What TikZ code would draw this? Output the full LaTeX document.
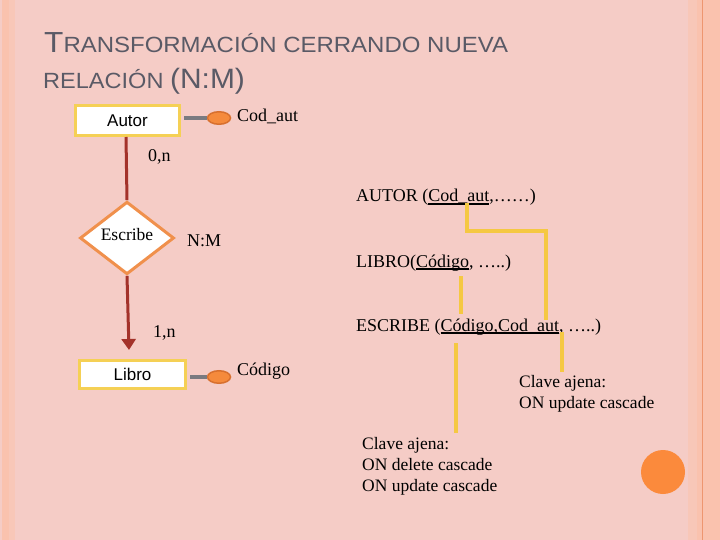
\documentclass[tikz,border=0pt]{standalone}
\usepackage{fontspec}
\usepackage{graphicx}
\setmainfont{Liberation Serif}
\newfontfamily\arialf{Liberation Sans}
\usetikzlibrary{shapes.geometric,arrows.meta}
\definecolor{bgpink}{HTML}{F5CCC6}
\definecolor{stripA}{HTML}{FAC2AE}
\definecolor{stripB}{HTML}{F8C7B8}
\definecolor{stripLine}{HTML}{EE9670}
\definecolor{titlegray}{HTML}{5A5A66}
\definecolor{boxyellow}{HTML}{F5D055}
\definecolor{diaorange}{HTML}{F0904C}
\definecolor{attrfill}{HTML}{F58A3C}
\definecolor{attrdraw}{HTML}{D8702E}
\definecolor{relred}{HTML}{A3322A}
\definecolor{linkgray}{HTML}{7A7A80}
\definecolor{fkyellow}{HTML}{F5C842}
\definecolor{dotorange}{HTML}{FB8A3C}
\newsavebox{\ulbx}
\newcommand{\ULbold}[1]{\sbox{\ulbx}{#1}\rlap{\raisebox{-2.6pt}{\rule{\wd\ulbx}{1.4pt}}}\usebox{\ulbx}}
\newcommand{\toplines}[1]{\begin{tabular}[t]{@{}l@{}}#1\end{tabular}}
\tikzset{
  entity/.style={draw=boxyellow, line width=3pt, fill=white, inner sep=0pt, font=\arialf\fontsize{17}{18}\selectfont},
  relship/.style={diamond, draw=diaorange, line width=3pt, fill=white, inner sep=0pt, minimum width=94pt, minimum height=57pt, text depth=8pt, font=\fontsize{17.5}{19}\selectfont},
  attr/.style={ellipse, draw=attrdraw, line width=1.5pt, fill=attrfill, minimum width=23pt, minimum height=12.5pt, inner sep=0pt},
  lbl/.style={anchor=base west, inner sep=0pt, font=\fontsize{18}{21}\selectfont},
  note/.style={anchor=base west, inner sep=0pt, font=\fontsize{17.5}{21}\selectfont},
  rel/.style={draw=relred, line width=3pt},
  link/.style={draw=linkgray, line width=4pt},
  fk/.style={draw=fkyellow, line width=3.5pt}
}
\begin{document}
\begin{tikzpicture}[x=1pt,y=-1pt]
\useasboundingbox (0,0) rectangle (720,540);
\fill[bgpink] (0,0) rectangle (720,540);
\fill[stripA] (2,0) rectangle (9,540);
\fill[stripB] (9,0) rectangle (15,540);
\fill[stripB] (688,0) rectangle (697,540);
\fill[stripA] (697,0) rectangle (720,540);
\draw[stripLine, line width=1pt] (702,0) -- (702,540);

% title
\node[anchor=base west, inner sep=0pt, text=titlegray] (t1) at (44,53)
  {\scalebox{1.09}[1]{\arialf\fontsize{29}{29}\selectfont T\fontsize{22}{22}\selectfont RANSFORMACIÓN CERRANDO NUEVA}};
\node[anchor=base west, inner sep=0pt, text=titlegray] (t2) at (43,89)
  {\scalebox{1.07}[1]{\arialf\fontsize{22}{22}\selectfont RELACIÓN \fontsize{28}{28}\selectfont(N:M)}};

% ER diagram
\node[entity, minimum width=104pt, minimum height=30pt] (autor) at (127.5,121) {Autor};
\node[attr] (codaut) at (219,118) {};
\node[lbl] (codautl) at (237,122) {Cod\_aut};
\draw[link, shorten <=3pt] (autor.east |- codaut.west) -- (codaut.west);

\node[relship] (escribe) at (127,238) {Escribe};
\node[lbl] (nm) at (187,246) {N:M};
\node[lbl] (on) at (148,162) {0,n};
\node[lbl] (one) at (153,337) {1,n};

\node[entity, minimum width=106pt, minimum height=28pt] (libro) at (132.5,374) {Libro};
\node[attr] (codigo) at (219,377) {};
\node[lbl] (codigol) at (237,375) {Código};
\draw[link, shorten <=3pt] (libro.east |- codigo.west) -- (codigo.west);

\coordinate (abot) at (126,137);
\coordinate (arrend) at (129,350);
\draw[rel] (abot) -- (escribe.north);
\draw[rel, -{Triangle[length=11pt,width=14pt]}] (escribe.south) -- (arrend);

% relational schema
\node[lbl] (rautor) at (356,202) {AUTOR (\ULbold{Cod\_aut},\dots\dots)};
\node[lbl] (rlibro) at (356,267) {LIBRO(\ULbold{Código}, …..)};
\node[lbl] (rescribe) at (356,331) {ESCRIBE (\ULbold{Código,Cod\_aut}, …..)};

\node[note] (n1) at (519,387) {\toplines{Clave ajena:\\ON update cascade}};
\node[note] (n2) at (362,449) {\toplines{Clave ajena:\\ON delete cascade\\ON update cascade}};

\coordinate (f1a) at (467,203);
\coordinate (f1b) at (467,231);
\coordinate (f1c) at (546,231);
\coordinate (f1d) at (546,320);
\draw[fk] (f1a) -- (f1b) -- (f1c) -- (f1d);
\coordinate (f2a) at (461,276);
\coordinate (f2b) at (461,314);
\draw[fk] (f2a) -- (f2b);
\coordinate (f3a) at (456,343);
\coordinate (f3b) at (456,433);
\draw[fk] (f3a) -- (f3b);
\coordinate (f4a) at (562,332);
\coordinate (f4b) at (562,372);
\draw[fk] (f4a) -- (f4b);

\node[circle, fill=dotorange, minimum size=44pt, inner sep=0pt] (dot) at (663,472) {};
\end{tikzpicture}
\end{document}
